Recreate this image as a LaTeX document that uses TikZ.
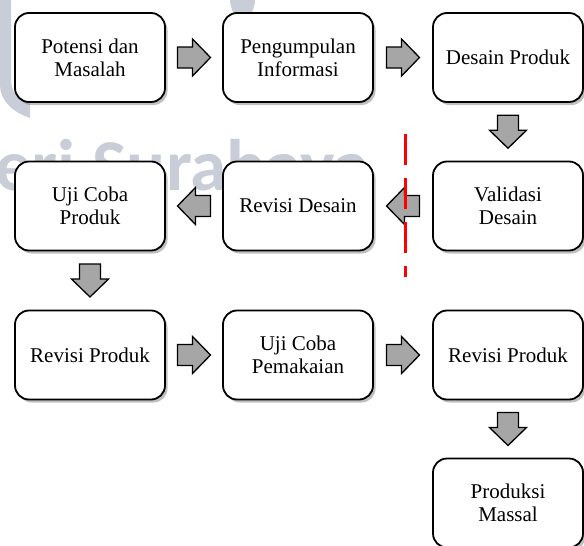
\documentclass[tikz,border=0pt]{standalone}
\usepackage{fontspec}
\setmainfont{Liberation Serif}
\newfontfamily\wmfont{Carlito}
\usetikzlibrary{shadows,calc}
\definecolor{wmgray}{HTML}{C8CDD8}
\definecolor{arrowgray}{HTML}{A6A6A6}
\tikzset{
 stepbox/.style={draw=black, line width=1.8pt, rounded corners=14pt, fill=white,
   minimum width=150pt, minimum height=89pt, align=center,
   font=\fontsize{21}{23}\selectfont, inner sep=0pt,
   drop shadow={shadow xshift=2.5pt, shadow yshift=-3pt, opacity=0.35, fill=black!70}},
 blockarrow/.style={draw=black, line width=1.3pt, fill=arrowgray, line join=miter},
 redline/.style={draw=red, line width=3pt, dash pattern=on 31pt off 13pt},
 wmark/.style={text=wmgray, font=\wmfont\bfseries\fontsize{73}{73}\selectfont, inner sep=0pt},
}
\newcommand\barrow[3]{%
 \draw[blockarrow, shift={($(#1)!0.5!(#2)$)}, rotate=#3]
   (-16.5,-10.5) -- (-1.5,-10.5) -- (-1.5,-18.5) -- (16.5,0) -- (-1.5,18.5)
   -- (-1.5,10.5) -- (-16.5,10.5) -- cycle;}
\begin{document}
\begin{tikzpicture}[x=1pt,y=-1pt]
\useasboundingbox (0,0) rectangle (584,546);
\fill[white] (0,0) rectangle (584,546);
% watermark
\fill[wmgray] (0,-2) -- (11,-2) -- (11,80) .. controls (11,92) and (18,100) .. (30,104) -- (30,118) .. controls (12,112) and (0,100) .. (0,85) -- cycle;
\fill[wmgray, rounded corners=4pt] (229,-2) -- (256,-2) -- (252,14) -- (233,14) -- cycle;
\node[wmark, anchor=base west] (wm) at (-5,190) {eri Surabaya};
% boxes
\node[stepbox] (a1) at (90,57.5) {Potensi dan\\Masalah};
\node[stepbox] (a2) at (298,57.5) {Pengumpulan\\Informasi};
\node[stepbox] (a3) at (508,57.5) {Desain Produk};
\node[stepbox] (b3) at (508,206) {Validasi\\Desain};
\node[stepbox] (b2) at (298,206) {Revisi Desain};
\node[stepbox] (b1) at (90,206) {Uji Coba\\Produk};
\node[stepbox] (c1) at (90,355) {Revisi Produk};
\node[stepbox] (c2) at (298,355) {Uji Coba\\Pemakaian};
\node[stepbox] (c3) at (508,355) {Revisi Produk};
\node[stepbox] (d3) at (508,503) {Produksi\\Massal};
% arrows
\barrow{a1}{a2}{0}
\barrow{a2}{a3}{0}
\barrow{a3}{b3}{-90}
\barrow{b3}{b2}{180}
\barrow{b2}{b1}{180}
\barrow{b1}{c1}{-90}
\barrow{c1}{c2}{0}
\barrow{c2}{c3}{0}
\barrow{c3}{d3}{-90}
% red dashed line
\coordinate (rtop) at (405,134);
\coordinate (rbot) at (405,277);
\draw[redline] (rtop) -- (rbot);
\end{tikzpicture}
\end{document}
